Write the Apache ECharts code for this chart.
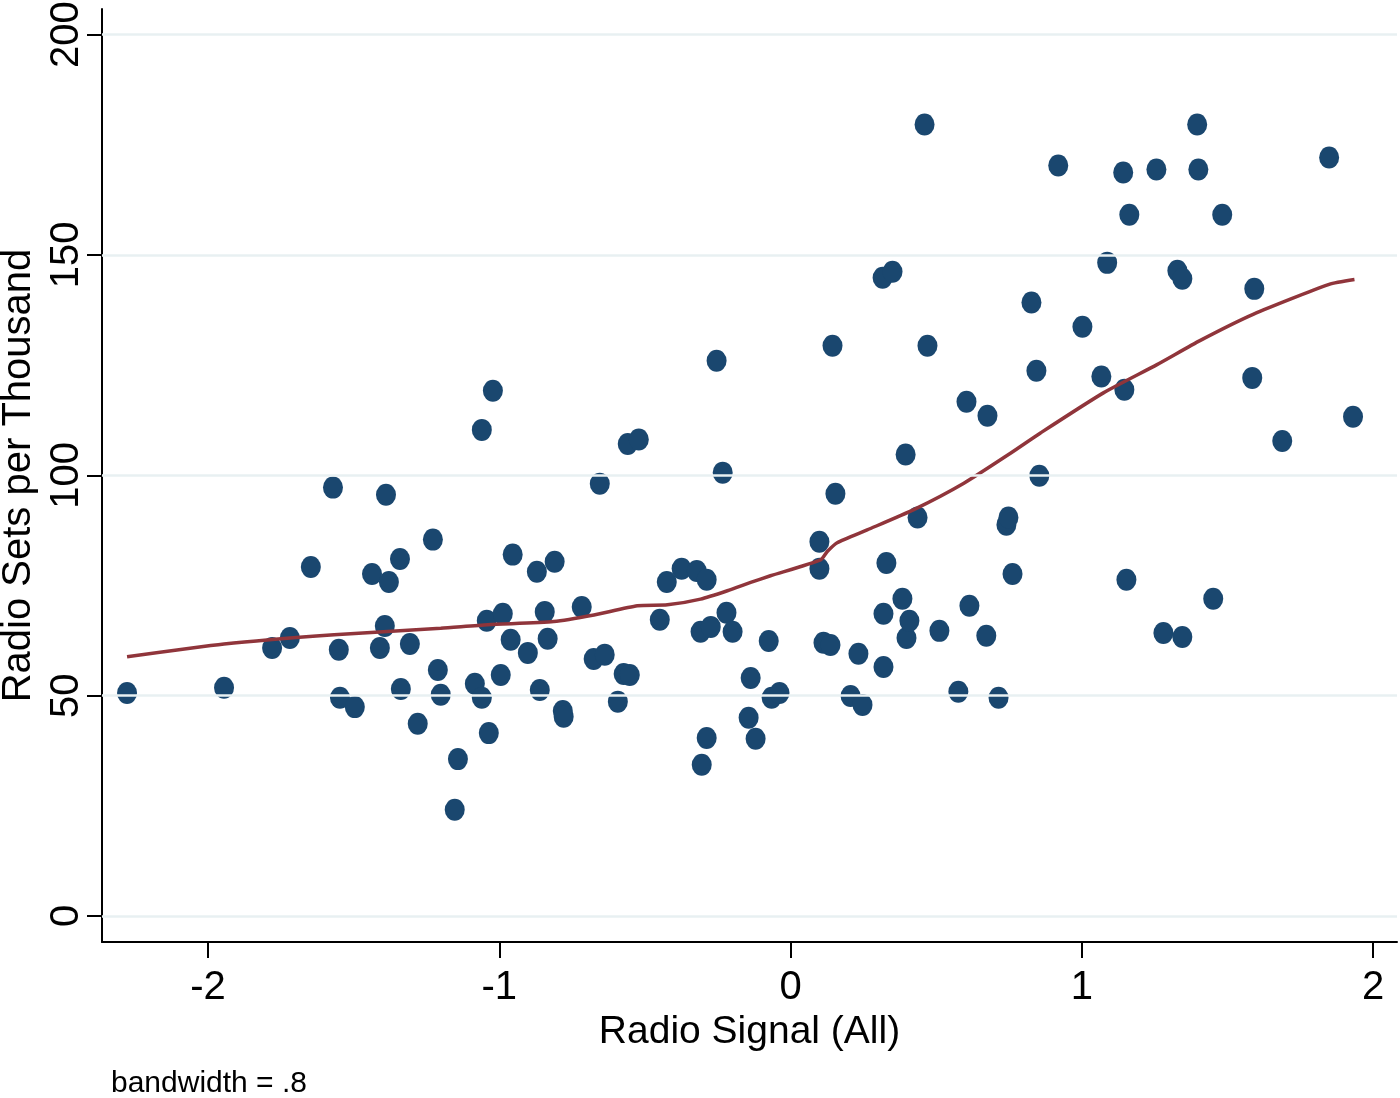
<!DOCTYPE html>
<html>
<head>
<meta charset="utf-8">
<script src="https://cdn.jsdelivr.net/npm/echarts@6/dist/echarts.min.js"></script>
<style>html,body{margin:0;padding:0;background:#fff}#chart{width:1400px;height:1098px}</style>
</head>
<body>
<div id="chart"></div>
<script>
// Scatter: radio signal (x) vs radio sets per thousand (y)
const signalX = [-2.278,-1.945,-1.780,-1.719,-1.647,-1.571,-1.551,-1.547,-1.496,-1.437,-1.410,-1.393,-1.389,-1.379,-1.341,-1.338,-1.307,-1.280,-1.228,-1.211,-1.201,-1.153,-1.142,-1.084,-1.060,-1.060,-1.043,-1.036,-1.022,-0.995,-0.988,-0.961,-0.954,-0.902,-0.871,-0.861,-0.844,-0.834,-0.810,-0.782,-0.779,-0.717,-0.676,-0.655,-0.638,-0.593,-0.573,-0.559,-0.552,-0.521,-0.449,-0.425,-0.374,-0.322,-0.309,-0.305,-0.288,-0.288,-0.274,-0.254,-0.233,-0.220,-0.199,-0.144,-0.137,-0.120,-0.075,-0.065,-0.038,0.099,0.099,0.113,0.137,0.144,0.154,0.206,0.233,0.247,0.316,0.319,0.319,0.329,0.350,0.384,0.395,0.398,0.408,0.436,0.460,0.470,0.511,0.576,0.604,0.614,0.672,0.676,0.714,0.741,0.748,0.762,0.827,0.844,0.854,0.919,1.002,1.067,1.087,1.142,1.146,1.153,1.163,1.256,1.280,1.328,1.345,1.345,1.396,1.400,1.451,1.482,1.592,1.585,1.688,1.849,1.931];
const radioSets = [50.6,51.8,60.8,63.1,79.2,97.2,60.4,49.5,47.4,77.6,60.8,65.8,95.6,75.8,81.0,51.5,61.7,43.6,85.4,55.8,50.2,24.1,35.6,52.7,110.3,49.5,67.0,41.5,119.2,54.7,68.6,62.7,82.0,59.7,78.1,51.3,69.0,62.9,80.4,46.5,45.2,70.1,58.3,98.1,59.3,48.6,54.9,107.1,54.7,108.1,67.2,75.8,78.8,78.3,64.5,34.3,76.3,40.4,65.6,126.0,100.6,68.8,64.5,45.0,54.0,40.2,62.4,49.5,50.6,84.9,78.8,62.0,61.5,129.4,95.8,49.9,59.5,47.9,144.8,56.5,68.6,80.1,146.2,72.0,104.7,63.1,67.0,90.4,179.6,129.4,64.7,50.9,116.7,70.4,63.6,113.5,49.5,88.8,90.4,77.6,139.2,123.7,99.9,170.3,133.7,122.4,148.2,168.7,119.4,76.3,159.1,169.4,64.2,146.4,144.6,63.3,179.6,169.4,72.0,159.1,142.3,122.1,107.8,172.1,113.3];

// Lowess smoother (bandwidth = .8)
const lowessX = [-2.278,-1.945,-1.567,-1.201,-1.040,-0.813,-0.675,-0.526,-0.423,-0.309,-0.217,-0.137,-0.069,0.103,0.126,0.160,0.263,0.423,0.595,0.755,0.858,1.074,1.258,1.407,1.588,1.849,1.936];
const lowessY = [58.8,61.7,63.8,65.3,66.1,66.8,68.3,70.4,70.6,71.9,73.8,75.7,77.2,80.8,82.7,84.7,87.6,92.2,98.2,105.0,109.6,118.7,125.1,130.6,136.5,143.3,144.4];

// Ticks
const xTicks = [-2,-1,0,1,2];
const yTicks = [0,50,100,150,200];

const FONT = '"Liberation Sans Narrow","Arial Narrow","Liberation Sans",Helvetica,sans-serif';

const scatterData = signalX.map((x,i)=>[x, radioSets[i]]);
const lowessData = lowessX.map((x,i)=>[x, lowessY[i]]);

const chart = echarts.init(document.getElementById('chart'), null, {renderer:'canvas'});
chart.setOption({
  animation: false,
  backgroundColor: '#ffffff',
  title: {
    text: 'bandwidth = .8',
    left: 106, top: 1064,
    textStyle: {fontFamily: FONT, fontSize: 30, fontWeight: 'normal', color: '#000'}
  },
  grid: {left: 102, right: 3, top: 9, bottom: 156, containLabel: false, outerBoundsMode: 'none'},
  xAxis: {
    type: 'value', min: -2.364, max: 2.082,
    name: 'Radio Signal (All)', nameLocation: 'middle', nameGap: 70,
    nameTextStyle: {fontFamily: FONT, fontSize: 39, color: '#000'},
    axisLine: {show: true, onZero: false, lineStyle: {color: '#000', width: 2}},
    axisTick: {show: true, length: 16, customValues: xTicks, lineStyle: {color: '#000', width: 2}},
    axisLabel: {customValues: xTicks, margin: 26, fontFamily: FONT, fontSize: 40, color: '#000',
      formatter: v => String(v)},
    splitLine: {show: false}
  },
  yAxis: {
    type: 'value', min: -5.9, max: 205.8,
    name: 'Radio Sets per Thousand', nameLocation: 'middle', nameGap: 62, nameRotate: 90,
    nameTextStyle: {fontFamily: FONT, fontSize: 40, color: '#000'},
    axisLine: {show: true, onZero: false, lineStyle: {color: '#000', width: 2}},
    axisTick: {show: true, length: 15, customValues: yTicks, lineStyle: {color: '#000', width: 2}},
    axisLabel: {customValues: yTicks, rotate: 90, margin: 15, fontFamily: FONT, fontSize: 40, color: '#000',
      formatter: v => String(v)},
    splitLine: {show: false}
  },
  series: [
    {
      type: 'line', data: [], z: 1, silent: true,
      markLine: {
        silent: true, symbol: ['none','none'], animation: false,
        label: {show: false},
        lineStyle: {color: '#e8f0f2', width: 2.5, type: 'solid'},
        data: yTicks.map(v => ({yAxis: v}))
      }
    },
    {
      type: 'scatter', data: scatterData, z: 3,
      symbol: 'circle', symbolSize: [20, 22],
      itemStyle: {color: '#1a476f', opacity: 1}
    },
    {
      type: 'line', data: lowessData, z: 4, showSymbol: false, symbol: 'none',
      smooth: 0.2,
      lineStyle: {color: '#90353b', width: 3.5}
    }
  ]
});
</script>
</body>
</html>
